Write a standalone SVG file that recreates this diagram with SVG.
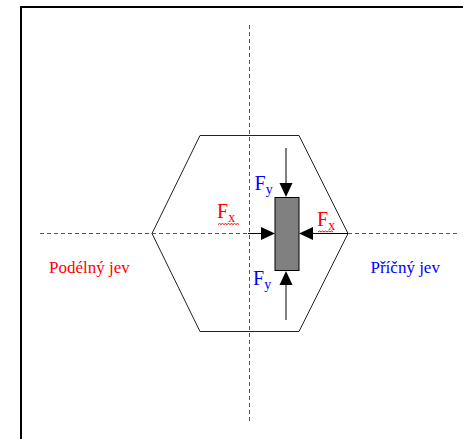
<svg xmlns="http://www.w3.org/2000/svg" width="463" height="439" viewBox="0 0 463 439">
<style>
.axis{stroke:#555;stroke-width:1;stroke-dasharray:4,3;fill:none}
.solid{stroke:#000;stroke-width:1;fill:none}
.head{fill:#000;stroke:none}
.f{font-family:"Liberation Serif","Times New Roman",serif;font-size:20px}
.sub{font-size:14px}
.lbl{font-family:"Liberation Serif","Times New Roman",serif;font-size:17px}
.red{fill:#ff0000}
.blue{fill:#0000ff}
.wavy{stroke:#ff0000;stroke-width:1;fill:none}
</style>
<rect width="463" height="439" fill="#fff"/>
<path d="M21,439 V7 H463" fill="none" stroke="#000" stroke-width="2"/>
<g id="hexagon">
<polygon points="200,135.5 299,135.5 348,233.5 299,331.5 200,331.5 152,233.5" fill="none" stroke="#222" stroke-width="1"/>
</g>
<g id="connectors">
<line class="axis" x1="249.5" y1="25" x2="249.5" y2="422"/>
<line class="axis" x1="40" y1="233.5" x2="248" y2="233.5"/>
<line class="axis" x1="348" y1="233.5" x2="460" y2="233.5"/>
<line class="solid" x1="248" y1="233.5" x2="262" y2="233.5"/>
<line class="solid" x1="312" y1="233.5" x2="348" y2="233.5"/>
<polygon class="head" points="261,227 275,233.5 261,240"/>
<polygon class="head" points="313,227 299,233.5 313,240"/>
<line class="solid" x1="286" y1="148" x2="286" y2="184"/>
<polygon class="head" points="279.5,183 292.5,183 286,197"/>
<line class="solid" x1="286" y1="284" x2="286" y2="320"/>
<polygon class="head" points="279.5,285 292.5,285 286,271"/>
</g>
<g id="block">
<rect x="275" y="197.5" width="24" height="73" fill="#808080" stroke="#000" stroke-width="1"/>
</g>
<g id="fy-top">
<text class="f blue" x="254.5" y="190">F<tspan class="sub" dy="4">y</tspan></text>
</g>
<g id="fy-bottom">
<text class="f blue" x="253" y="285">F<tspan class="sub" dy="4">y</tspan></text>
</g>
<g id="fx-left">
<text class="f red" x="217" y="218">F<tspan class="sub" dy="4">x</tspan></text>
<path class="wavy" d="M218,224.5 l1.5,-1 1.5,1 1.5,-1 1.5,1 1.5,-1 1.5,1 1.5,-1 1.5,1 1.5,-1 1.5,1 1.5,-1 1.5,1 1.5,-1 1.5,1"/>
</g>
<g id="fx-right">
<text class="f red" x="317" y="226">F<tspan class="sub" dy="4">x</tspan></text>
<path class="wavy" d="M318,232 l1.5,-1 1.5,1 1.5,-1 1.5,1 1.5,-1 1.5,1 1.5,-1 1.5,1 1.5,-1 1.5,1"/>
</g>
<g id="podelny">
<text class="lbl red" font-family="Liberation Serif, serif" x="49" y="273">Podélný jev</text>
</g>
<g id="pricny">
<text class="lbl blue" font-family="Liberation Serif, serif" x="370.5" y="273">Příčný jev</text>
</g>
</svg>
